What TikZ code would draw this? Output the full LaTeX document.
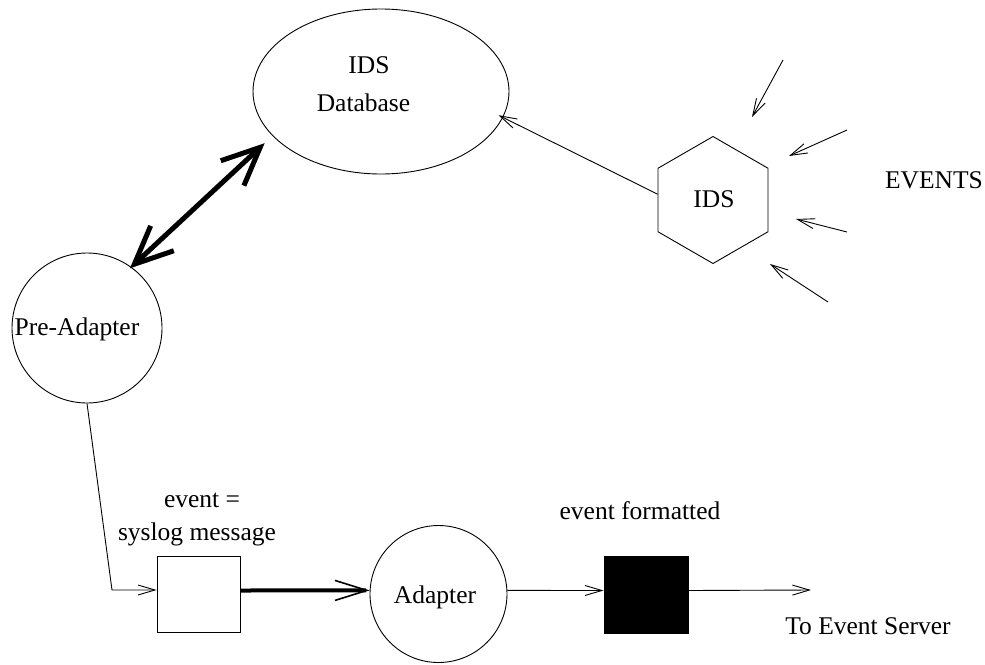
\documentclass[tikz,border=0pt]{standalone}
\usepackage{fontspec}
\setmainfont{Liberation Serif}
\usetikzlibrary{arrows.meta,shapes.geometric}
\tikzset{
  lbl/.style={font=\fontsize{25.5}{30}\selectfont, anchor=base, inner sep=0pt},
  shp/.style={draw, line width=0.9pt, inner sep=0pt},
  thinarrow/.style={line width=0.9pt, -{Straight Barb[length=17pt,width=10pt]}},
  boldarrow/.style={line width=4pt, -{Straight Barb[length=32pt,width=20pt,line width=1.6pt]}},
  dblarrow/.style={line width=5pt, {Straight Barb[length=38pt,width=34pt]}-{Straight Barb[length=38pt,width=34pt]}}
}
\begin{document}
\begin{tikzpicture}[x=1pt,y=-1pt]
\useasboundingbox (0,0) rectangle (985,664);
% shapes
\node[shp, ellipse, minimum width=256pt, minimum height=165pt] (db) at (381,91.5) {};
\node[shp, regular polygon, regular polygon sides=6, shape border rotate=30, minimum size=127pt] (hex) at (713,200) {};
\node[shp, circle, minimum size=150pt] (pre) at (87,328) {};
\node[shp, circle, minimum size=137pt] (adapt) at (438.5,594) {};
\node[shp, rectangle, minimum width=83pt, minimum height=76pt] (sq) at (198.5,594.5) {};
\node[shp, rectangle, fill=black, minimum width=84pt, minimum height=77pt] (blk) at (646,594.5) {};
% texts
\node[lbl] (tdb1) at (369,73) {IDS};
\node[lbl] (tdb2) at (363.5,111) {Database};
\node[lbl] (tids) at (714,207) {IDS};
\node[lbl] (tev) at (934,188) {EVENTS};
\node[lbl] (tpre) at (77,335) {Pre-Adapter};
\node[lbl] (tad) at (435,603) {Adapter};
\node[lbl] (tsq1) at (202,507) {event =};
\node[lbl] (tsq2) at (197,540) {syslog message};
\node[lbl] (tfmt) at (640,519) {event formatted};
\node[lbl] (tsrv) at (868,634) {To Event Server};
% incoming event arrows
\coordinate (e1s) at (783,60);  \coordinate (e1t) at (752,117);
\coordinate (e2s) at (847,130); \coordinate (e2t) at (789,156);
\coordinate (e3s) at (847,232); \coordinate (e3t) at (796,219);
\coordinate (e4s) at (828,302); \coordinate (e4t) at (770,264);
\draw[thinarrow] (e1s) -- (e1t);
\draw[thinarrow] (e2s) -- (e2t);
\draw[thinarrow] (e3s) -- (e3t);
\draw[thinarrow] (e4s) -- (e4t);
% IDS -> database
\draw[thinarrow, shorten >=-5pt] (hex.174) -- (db.348);
% database <-> pre-adapter
\draw[dblarrow, shorten >=-2pt] ([shift={(-10.6,4.6)}]db.204) -- (pre.54);
% pre-adapter -> square
\coordinate (bend) at (112,590);
\draw[thinarrow] (pre.south) -- (bend) -- (bend -| sq.west);
% square -> adapter
\draw[boldarrow] ([yshift=4pt]sq.east) -- (adapt.177);
% adapter -> black
\draw[thinarrow] (adapt.3) -- ([yshift=4pt]blk.west);
% black -> out
\coordinate (out) at (811,590);
\draw[thinarrow] ([yshift=4pt]blk.east) -- (out);
\end{tikzpicture}
\end{document}
